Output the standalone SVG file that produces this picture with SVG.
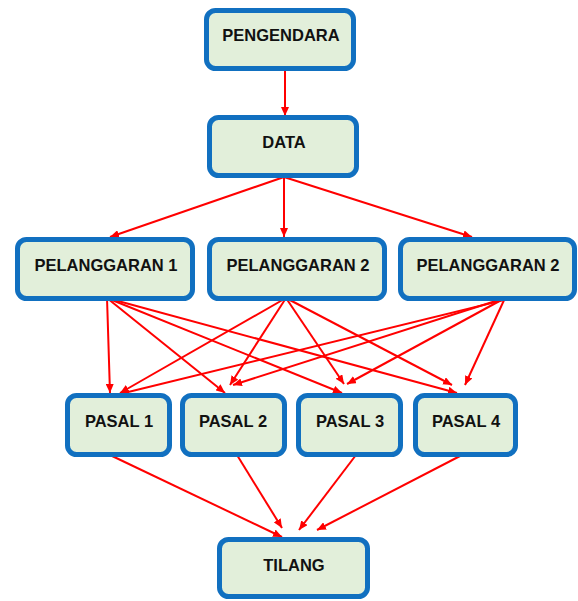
<svg xmlns="http://www.w3.org/2000/svg" width="578" height="601" viewBox="0 0 578 601">
<style>
.box{fill:#e2efda;stroke:#1170c0;stroke-width:5}
.lbl{font-family:"Liberation Sans",Arial,sans-serif;font-weight:bold;font-size:16.5px;fill:#111111;text-anchor:middle}
.c{stroke:#ff0000;stroke-width:2;fill:none;marker-end:url(#ah)}
</style>
<defs>
<marker id="ah" markerUnits="userSpaceOnUse" markerWidth="10" markerHeight="8" refX="9" refY="4" orient="auto">
<path d="M0,0 L9,4 L0,8 Z" fill="#ff0000"/>
</marker>
</defs>
<rect width="578" height="601" fill="#ffffff"/>
<g id="connectors">
<line class="c" x1="285" y1="71" x2="285" y2="116"/>
<line class="c" x1="284" y1="177" x2="110" y2="237"/>
<line class="c" x1="284" y1="177" x2="284" y2="237"/>
<line class="c" x1="284" y1="177" x2="472" y2="237"/>
<line class="c" x1="107" y1="298" x2="110" y2="393"/>
<line class="c" x1="107" y1="298" x2="225" y2="393"/>
<line class="c" x1="107" y1="298" x2="342" y2="393"/>
<line class="c" x1="107" y1="298" x2="457" y2="393"/>
<line class="c" x1="286" y1="298" x2="120" y2="393"/>
<line class="c" x1="286" y1="298" x2="230" y2="385"/>
<line class="c" x1="286" y1="298" x2="344" y2="384"/>
<line class="c" x1="286" y1="298" x2="452" y2="385"/>
<line class="c" x1="516" y1="297" x2="120" y2="394"/>
<line class="c" x1="505" y1="298" x2="233" y2="385"/>
<line class="c" x1="505" y1="298" x2="347" y2="384"/>
<line class="c" x1="505" y1="298" x2="465" y2="385"/>
<line class="c" x1="110" y1="455" x2="282" y2="537"/>
<line class="c" x1="237" y1="455" x2="282" y2="528"/>
<line class="c" x1="356" y1="455" x2="299" y2="530"/>
<line class="c" x1="462" y1="455" x2="317" y2="530"/>
</g>
<g id="pengendara"><rect class="box" x="206.5" y="10.5" width="147" height="58" rx="9"/><text class="lbl" x="281" y="41">PENGENDARA</text></g>
<g id="data"><rect class="box" x="209.5" y="117.5" width="147" height="58" rx="9"/><text class="lbl" x="284" y="148">DATA</text></g>
<g id="pelanggaran1"><rect class="box" x="17.5" y="239.5" width="175" height="59" rx="9"/><text class="lbl" x="106" y="271">PELANGGARAN 1</text></g>
<g id="pelanggaran2a"><rect class="box" x="209.5" y="239.5" width="175" height="59" rx="9"/><text class="lbl" x="298" y="271">PELANGGARAN 2</text></g>
<g id="pelanggaran2b"><rect class="box" x="400.5" y="239.5" width="174" height="59" rx="9"/><text class="lbl" x="488" y="271">PELANGGARAN 2</text></g>
<g id="pasal1"><rect class="box" x="67.5" y="395.5" width="102" height="59" rx="9"/><text class="lbl" x="119" y="427">PASAL 1</text></g>
<g id="pasal2"><rect class="box" x="182.5" y="395.5" width="102" height="59" rx="9"/><text class="lbl" x="233" y="427">PASAL 2</text></g>
<g id="pasal3"><rect class="box" x="298.5" y="395.5" width="102" height="59" rx="9"/><text class="lbl" x="350" y="427">PASAL 3</text></g>
<g id="pasal4"><rect class="box" x="415.5" y="395.5" width="100" height="59" rx="9"/><text class="lbl" x="466" y="427">PASAL 4</text></g>
<g id="tilang"><rect class="box" x="219.5" y="539.5" width="148" height="57" rx="9"/><text class="lbl" x="294" y="571">TILANG</text></g>
</svg>
